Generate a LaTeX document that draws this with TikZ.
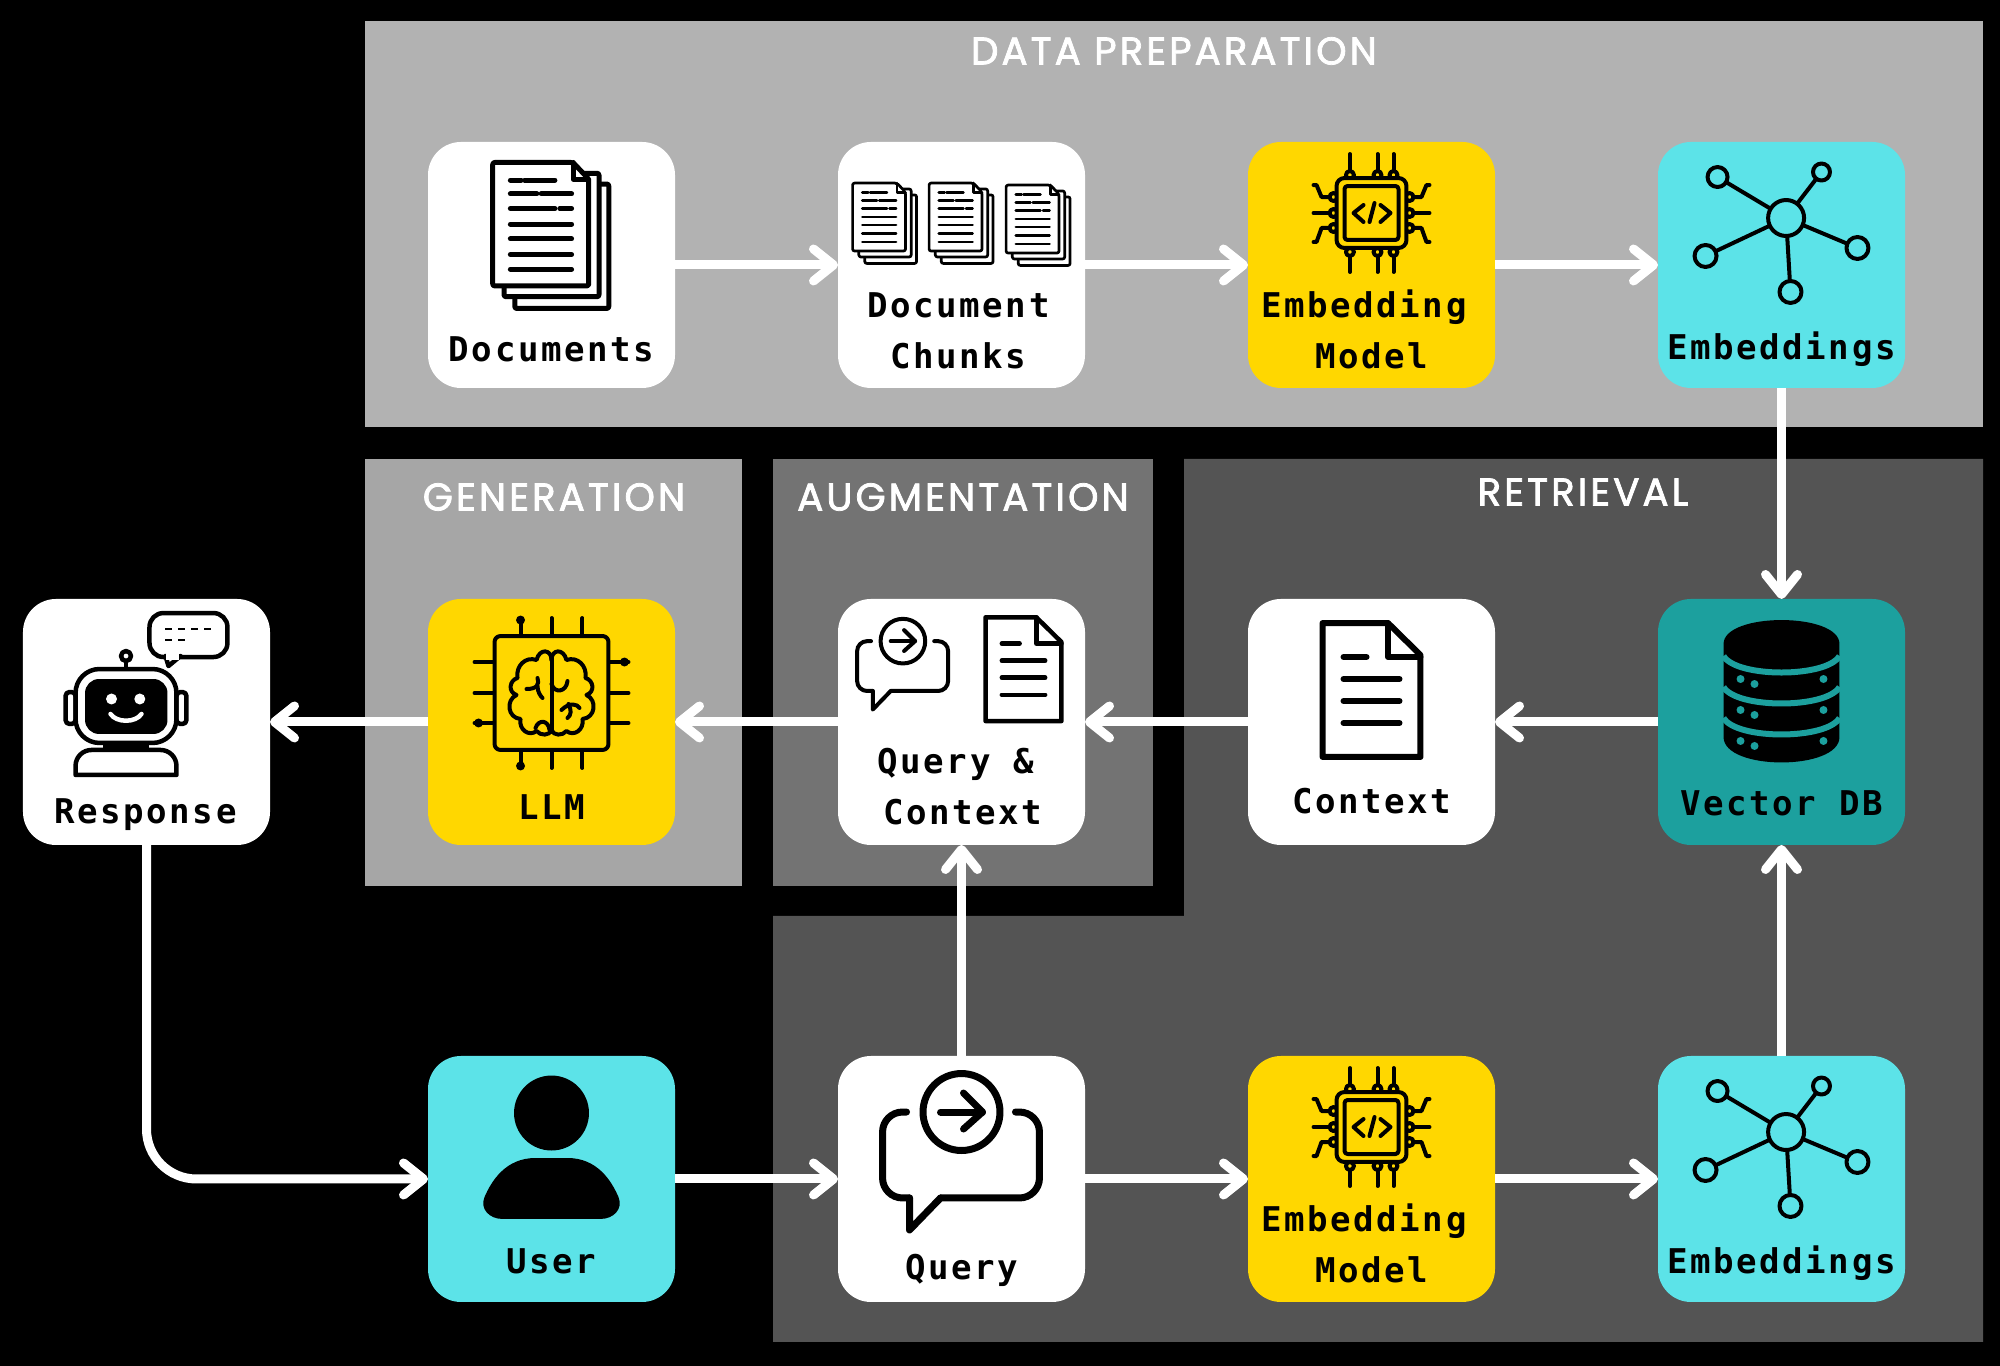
\documentclass[tikz,border=0pt]{standalone}
\usepackage{fontspec}
\usetikzlibrary{arrows.meta,positioning,backgrounds,calc}
\newfontfamily\labelfont[LetterSpace=7.5]{DejaVu Sans Mono}
\newfontfamily\headfont[LetterSpace=8,FakeBold=2]{Poppins}
\definecolor{box_yellow}{HTML}{FFD700}
\definecolor{box_cyan}{HTML}{5CE3E8}
\definecolor{box_teal}{HTML}{1CA09E}

\begin{document}
\begin{tikzpicture}[
    comp_box/.style={fill=white, rounded corners=0.33cm, inner sep=0pt, outer sep=0pt, minimum width=2.47cm, minimum height=2.46cm},
    yellow_box/.style={comp_box, fill=box_yellow},
    cyan_box/.style={comp_box, fill=box_cyan},
    teal_box/.style={comp_box, fill=box_teal},
    box_label/.style={anchor=base, inner sep=0pt, align=center, font=\labelfont\bfseries\fontsize{9.7}{14.6}\selectfont},
    panel_title/.style={text=white, inner sep=0pt, font=\headfont\fontsize{11}{13}\selectfont},
    arrow/.style={-{Straight Barb[round,length=0.2cm,width=0.32cm]}, line width=0.09cm, white},
    icon/.style={x=0.01cm, y=-0.01cm, line cap=round, line join=round},
    bubble_round/.style={rounded corners=0.2cm},
    % ICONS
    pics/doc_stack/.style={code={
        \draw[fill=white, rounded corners=0.02cm] (-37.5,-52) rectangle (58.5,75);
        \draw[fill=white, rounded corners=0.02cm] (-48.5,-63) rectangle (48.5,63);
        \draw[fill=white, rounded corners=0.02cm] (-60,-74) -- (22,-74) -- (38,-57) -- (38,52) -- (-60,52) -- cycle;
        \draw (22,-74) -- (22,-57) -- (38,-57);
        \foreach \xa/\xb/\yy in {-42/-31/-56, -27.5/3.5/-56, -42/-15/-42, -10.5/20.5/-42, -42/3.5/-27, 8.5/20.5/-27, -42/20.5/-11, -42/20.5/4, -42/20.5/20, -42/20.5/35}
            \draw (\xa,\yy) -- (\xb,\yy);
    }},
    pics/chip_icon/.style={code={
        \foreach \xx in {-21.6,6,22} {
            \draw (\xx,-111) -- (\xx,-93);
            \draw (\xx,-14) -- (\xx,7);
            \draw[fill=box_yellow] (\xx,-90) circle[radius=4];
            \draw[fill=box_yellow] (\xx,-13) circle[radius=4];
        }
        \foreach \sx in {1,-1} {
            \begin{scope}[xscale=\sx]
                \draw (-42,-68) -- (-50,-68) -- (-55,-80) -- (-58,-80);
                \draw (-42,-52) -- (-58,-52);
                \draw (-42,-37) -- (-50,-37) -- (-55,-23) -- (-58,-23);
                \foreach \yy in {-68,-52,-37}
                    \draw[fill=box_yellow] (-38,\yy) circle[radius=4];
            \end{scope}
        }
        \draw[fill=box_yellow, rounded corners=0.08cm] (-35,-87) rectangle (35,-17);
        \draw[rounded corners=0.03cm] (-27,-79) rectangle (27,-25);
        \draw (-8,-60) -- (-18,-52) -- (-8,-43);
        \draw (9,-60) -- (19,-52) -- (9,-43);
        \draw (3,-62) -- (-2,-43);
    }},
    pics/net_icon/.style={code={
        \foreach \nx/\ny in {-64/-88, 40/-93, 76/-17, -76/-9, 9/27}
            \draw (4.6,-47) -- (\nx,\ny);
        \draw[fill=box_cyan] (4.6,-47) circle[radius=18];
        \foreach \nx/\ny/\nr in {-64/-88/10, 40/-93/8.5, 76/-17/11, -76/-9/11, 9/27/11}
            \draw[fill=box_cyan] (\nx,\ny) circle[radius=\nr];
    }},
    pics/page_icon/.style={code={
        \draw (-49,-99) -- (16.5,-99) -- (49,-67) -- (49,35) -- (-49,35) -- cycle;
        \draw (16.5,-99) -- (16.5,-65) -- (49,-65);
        \draw (-28,-65) -- (-5,-65);
        \foreach \yy in {-43,-21,1}
            \draw (-28,\yy) -- (28,\yy);
    }},
    pics/query_icon/.style={code={
        \draw (0,-67) circle[radius=38.5];
        \draw (-21,-67) -- (21,-67);
        \draw (2,-86) -- (21,-67) -- (2,-50);
        \draw[bubble_round] (-55,-67) -- (-79,-67) -- (-79,19) -- (-52,19);
        \draw (-52,19) -- (-52,51) -- (-21,19);
        \draw[bubble_round] (-21,19) -- (78,19) -- (78,-67) -- (54,-67);
    }},
    pics/db_icon/.style={code={
        \fill (-58,-78) .. controls (-58,-110) and (58,-110) .. (58,-78) -- (58,15)
            .. controls (58,49) and (-58,49) .. (-58,15) -- cycle;
        \foreach \yy in {0,31,62} {
            \draw[box_teal, line cap=butt] (-58,-66+\yy) .. controls (-45,-44+\yy) and (45,-44+\yy) .. (58,-66+\yy);
            \foreach \xx/\dy in {-41/-43, -27/-38, 42/-43}
                \fill[box_teal] (\xx,\dy+\yy) circle[radius=4];
        }
    }},
    pics/person_icon/.style={code={
        \fill (0,-66) circle[radius=37.5];
        \fill (-16,-21) .. controls (-46,-21) and (-60,2) .. (-67,18)
            .. controls (-72,30) and (-62,40) .. (-49,40) -- (49,40)
            .. controls (62,40) and (72,30) .. (67,18)
            .. controls (60,2) and (46,-21) .. (16,-21) -- cycle;
    }},
    pics/robot_icon/.style={code={
        \draw[fill=white, rounded corners=0.14cm] (3,-109) rectangle (81,-65);
        \draw[fill=white] (19,-66) -- (22,-56) -- (34,-66);
        \draw[white, line width=0.06cm, line cap=butt] (20,-65) -- (33,-65);
        \draw[line width=0.025cm, line cap=butt, dash pattern=on 0.07cm off 0.06cm] (19,-93) -- (66,-93) (19,-82) -- (39,-82);
        \draw (-20.5,-66) circle[radius=5];
        \draw (-20.5,-61) -- (-20.5,-53);
        \draw[rounded corners=0.04cm] (-71,-30) rectangle (-81,2);
        \draw[rounded corners=0.04cm] (30,-30) rectangle (40,2);
        \draw[rounded corners=0.24cm, fill=white] (-71,-53) rectangle (30,21);
        \fill[rounded corners=0.14cm] (-61.5,-43) rectangle (21,12);
        \fill (-44,21) rectangle (3,29);
        \draw[fill=white] (-71,53) [rounded corners=0.16cm] -- (-71,28) -- (30,28) [sharp corners] -- (30,53) -- cycle;
        \fill[white] (-35,-23) circle[radius=5.5];
        \fill[white] (-6.7,-23) circle[radius=5.5];
        \draw[white] (-36,-8) .. controls (-30,1) and (-11,1) .. (-5,-8);
    }},
    pics/llm_icon/.style={code={
        \foreach \xx in {-31,0,31} {
            \draw (\xx,-104) -- (\xx,-86);
            \draw (\xx,28) -- (\xx,46);
        }
        \foreach \yy in {-60,-29,1} {
            \draw (-77,\yy) -- (-57,\yy);
            \draw (57,\yy) -- (77,\yy);
        }
        \fill (-31,-102) circle[radius=4.5];
        \fill (-31,44) circle[radius=4.5];
        \fill (-73,1) circle[radius=4.5];
        \fill (73,-60) circle[radius=4.5];
        \draw[rounded corners=0.06cm, fill=box_yellow] (-57,-86) rectangle (57,28);
        \draw (0,-66) -- (0,10);
        \foreach \sx in {1,-1} {
            \begin{scope}[xscale=\sx]
                \draw (0,-62) .. controls (0,-73) and (12,-74) .. (15,-62)
                    .. controls (26,-66) and (36,-56) .. (34,-44)
                    .. controls (42,-42) and (44,-30) .. (35,-27)
                    .. controls (46,-22) and (44,-4) .. (31,-3)
                    .. controls (33,8) and (22,15) .. (15,9)
                    .. controls (11,14) and (2,14) .. (0,8);
            \end{scope}
        }
        \draw (0,-38) .. controls (3,-28) and (15,-30) .. (16,-41);
        \draw (10,-12) .. controls (18,-20) and (26,-18) .. (28,-14);
        \draw (17,-18) .. controls (20,-12) and (20,-7) .. (16,-4);
        \draw (-14,-44) .. controls (-12,-38) and (-14,-33) .. (-25,-33);
        \draw (-14,-36) .. controls (-14,-30) and (-11,-26) .. (-9,-24);
        \draw (-2,8) .. controls (-3,-2) and (-13,-3) .. (-16,6);
    }}
]

% PANELS
\begin{scope}[on background layer]
    \fill[black] (0,0) rectangle (20,13.66);
    \fill[black!30] (3.65,13.45) rectangle (19.83,9.39);
    \fill[black!35] (3.65,9.07) rectangle (7.42,4.80);
    \fill[black!55] (7.73,9.07) rectangle (11.53,4.80);
    \fill[black!67] (11.84,9.07) -- (19.83,9.07) -- (19.83,0.24) -- (7.73,0.24) -- (7.73,4.50) -- (11.84,4.50) -- cycle;
\end{scope}
\useasboundingbox (0,0) rectangle (20,13.66);

\node[panel_title] (title_data) at (11.74,13.15) {DATA PREPARATION};
\node[panel_title] (title_gen) at (5.54,8.69) {GENERATION};
\node[panel_title] (title_aug) at (9.63,8.69) {AUGMENTATION};
\node[panel_title] (title_ret) at (15.83,8.74) {RETRIEVAL};

% DATA PREPARATION
\node[comp_box] (documents) at (5.515,11.01) {};
\node[comp_box, right=1.63cm of documents] (chunks) {};
\node[yellow_box, right=1.63cm of chunks] (embed_model) {};
\node[cyan_box, right=1.63cm of embed_model] (embeddings) {};

% RETRIEVAL AND AUGMENTATION ROW
\node[teal_box, below=2.11cm of embeddings] (vector_db) {};
\node[comp_box, below=2.11cm of embed_model] (context) {};
\node[comp_box, below=2.11cm of chunks] (query_context) {};
\node[yellow_box, below=2.11cm of documents] (llm) {};
\node[comp_box, left=1.58cm of llm] (response) {};

% QUERY ROW
\node[cyan_box, below=2.11cm of llm] (user) {};
\node[comp_box, below=2.11cm of query_context] (query) {};
\node[yellow_box, below=2.11cm of context] (embed_model_q) {};
\node[cyan_box, below=2.11cm of vector_db] (embeddings_q) {};

% LABELS
\node[box_label] (lbl_documents) at ($(documents.south)+(0,0.265)$) {Documents};
\node[box_label] (lbl_chunks) at ($(chunks.south)+(-0.03,0.19)$) {Document\\Chunks};
\node[box_label] (lbl_embed_model) at ($(embed_model.south)+(0,0.19)$) {Embedding\hspace*{0.15cm}\\Model};
\node[box_label] (lbl_embeddings) at ($(embeddings.south)+(0,0.285)$) {Embeddings};
\node[box_label] (lbl_vector_db) at ($(vector_db.south)+(0,0.295)$) {Vector DB};
\node[box_label] (lbl_context) at ($(context.south)+(0,0.315)$) {Context};
\node[box_label] (lbl_query_context) at ($(query_context.south)+(0.015,0.20)$) {Query \&\hspace*{0.14cm}\\Context};
\node[box_label] (lbl_llm) at ($(llm.south)+(0,0.255)$) {LLM};
\node[box_label] (lbl_response) at ($(response.south)+(-0.01,0.215)$) {Response};
\node[box_label] (lbl_user) at ($(user.south)+(0,0.285)$) {User};
\node[box_label] (lbl_query) at ($(query.south)+(0,0.22)$) {Query};
\node[box_label] (lbl_embed_model_q) at ($(embed_model_q.south)+(0,0.19)$) {Embedding\hspace*{0.15cm}\\Model};
\node[box_label] (lbl_embeddings_q) at ($(embeddings_q.south)+(0,0.285)$) {Embeddings};

% ICONS
\pic[icon, line width=0.05cm, yshift=0.30cm, scale=0.98] at (documents) {doc_stack};
\pic[icon, line width=0.027cm, xshift=-0.765cm, yshift=0.42cm, scale=0.54] at (chunks) {doc_stack};
\pic[icon, line width=0.027cm, yshift=0.42cm, scale=0.54] at (chunks) {doc_stack};
\pic[icon, line width=0.027cm, xshift=0.77cm, yshift=0.40cm, scale=0.54] at (chunks) {doc_stack};
\pic[icon, line width=0.04cm] at (embed_model) {chip_icon};
\pic[icon, line width=0.04cm] at (embed_model_q) {chip_icon};
\pic[icon, line width=0.04cm] at (embeddings) {net_icon};
\pic[icon, line width=0.04cm] at (embeddings_q) {net_icon};
\pic[icon, line width=0.06cm] at (context) {page_icon};
\pic[icon, line width=0.045cm, xshift=0.62cm, yshift=0.28cm, scale=0.775] at (query_context) {page_icon};
\pic[icon, line width=0.04cm, xshift=-0.586cm, yshift=0.42cm, scale=0.58, bubble_round/.style={rounded corners=0.1cm}] at (query_context) {query_icon};
\pic[icon, line width=0.07cm] at (query) {query_icon};
\pic[icon, line width=0.06cm] at (vector_db) {db_icon};
\pic[icon] at (user) {person_icon};
\pic[icon, line width=0.045cm] at (response) {robot_icon};
\pic[icon, line width=0.04cm] at (llm) {llm_icon};

% ARROWS
\draw[arrow] (documents) -- (chunks);
\draw[arrow] (chunks) -- (embed_model);
\draw[arrow] (embed_model) -- (embeddings);
\draw[arrow] (embeddings) -- (vector_db);
\draw[arrow] (vector_db) -- (context);
\draw[arrow] (context) -- (query_context);
\draw[arrow] (query_context) -- (llm);
\draw[arrow] (llm) -- (response);
\draw[arrow, rounded corners=0.5cm] (response) |- (user);
\draw[arrow] (user) -- (query);
\draw[arrow] (query) -- (query_context);
\draw[arrow] (query) -- (embed_model_q);
\draw[arrow] (embed_model_q) -- (embeddings_q);
\draw[arrow] (embeddings_q) -- (vector_db);

\end{tikzpicture}
\end{document}
